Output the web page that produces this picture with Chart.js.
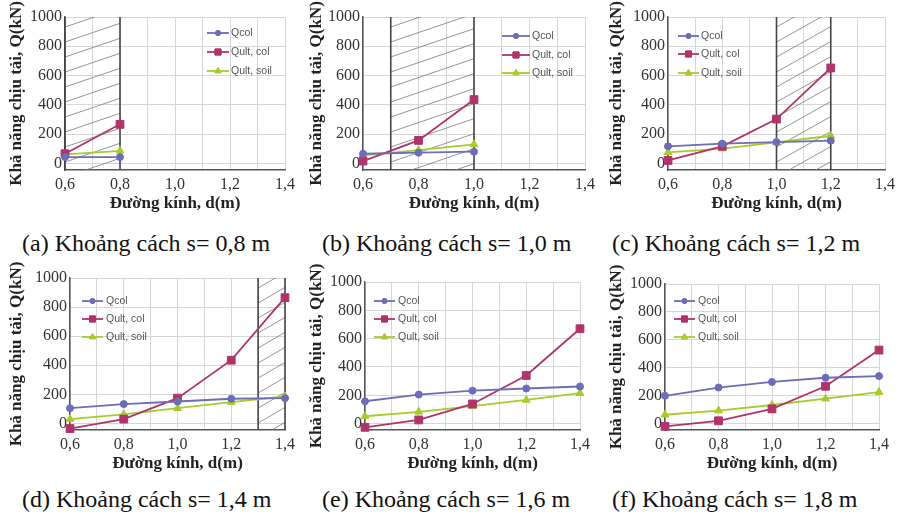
<!DOCTYPE html>
<html><head><meta charset="utf-8">
<script src="https://cdn.jsdelivr.net/npm/chart.js@4.4.0/dist/chart.umd.min.js"></script>
<style>
body{margin:0;background:#fff;width:900px;height:521px;overflow:hidden;position:relative}
canvas{position:absolute}
.cap{position:absolute;font-family:'Liberation Serif','Times New Roman',serif;font-size:24px;line-height:24px;color:#111;white-space:nowrap}
</style></head><body>
<canvas id="ca" width="300" height="222" style="left:0;top:0"></canvas>
<canvas id="cb" width="300" height="222" style="left:300px;top:0"></canvas>
<canvas id="cc" width="300" height="222" style="left:600px;top:0"></canvas>
<canvas id="cd" width="300" height="222" style="left:0;top:260px"></canvas>
<canvas id="ce" width="300" height="222" style="left:300px;top:260px"></canvas>
<canvas id="cf" width="300" height="222" style="left:600px;top:260px"></canvas>
<div class="cap" style="left:22px;top:231px">(a) Khoảng cách s= 0,8 m</div>
<div class="cap" style="left:322px;top:231px">(b) Khoảng cách s= 1,0 m</div>
<div class="cap" style="left:612px;top:231px">(c) Khoảng cách s= 1,2 m</div>
<div class="cap" style="left:22px;top:487px">(d) Khoảng cách s= 1,4 m</div>
<div class="cap" style="left:322px;top:487px">(e) Khoảng cách s= 1,6 m</div>
<div class="cap" style="left:612px;top:487px">(f) Khoảng cách s= 1,8 m</div>
<script>
// ---- data ----
const diameters = [0.6, 0.8, 1.0, 1.2, 1.4];
const seriesNames = ['Qcol', 'Qult, col', 'Qult, soil'];
const yTickValues = [0, 100, 200, 300, 400, 500, 600, 700, 800, 900, 1000];
const xTitle = 'Đường kính, d(m)';
const yTitle = 'Khả năng chịu tải, Q(kN)';

const qcolA = [43, 43];
const qultColA = [66, 267];
const qultSoilA = [62, 86];
const hatchA = [0.6, 0.8];

const qcolB = [66, 73, 80];
const qultColB = [16, 157, 436];
const qultSoilB = [55, 91, 130];
const hatchB = [0.7, 1.0];

const qcolC = [117, 135, 146, 155];
const qultColC = [20, 117, 303, 652];
const qultSoilC = [76, 101, 144, 189];
const hatchC = [1.0, 1.2];

const qcolD = [105, 133, 151, 170, 174];
const qultColD = [-35, 30, 174, 435, 865];
const qultSoilD = [30, 63, 105, 147, 186];
const hatchD = [1.3, 1.4];

const qcolE = [158, 205, 233, 248, 262];
const qultColE = [-26, 26, 139, 340, 670];
const qultSoilE = [52, 83, 123, 167, 215];

const qcolF = [200, 259, 299, 329, 341];
const qultColF = [-19, 21, 106, 268, 527];
const qultSoilF = [64, 94, 134, 179, 226];

// ---- styles ----
const COLORS = ['#6b6db8', '#b0336a', '#a6cc2c'];
const STYLES = ['circle', 'rect', 'triangle'];
const RADII = [3.5, 5.5, 4.5];
const LEG_RADII = [2.5, 4.2, 3.5];
const SERIF = "'Liberation Serif','Times New Roman',serif";
const SANS = "'Liberation Sans',Arial,sans-serif";
const H = 222;

const panels = [
  {id:'ca', q:[qcolA, qultColA, qultSoilA], hatch:hatchA, slope:0.34, box:{l:65,r:288,t:17}, leg:{x0:207,x1:229,tx:231,ys:[33,52,71]}},
  {id:'cb', q:[qcolB, qultColB, qultSoilB], hatch:hatchB, slope:0.34, box:{l:63,r:287,t:17}, leg:{x0:202,x1:230,tx:232,ys:[36,55,73]}},
  {id:'cc', q:[qcolC, qultColC, qultSoilC], hatch:hatchC, slope:0.56, box:{l:68,r:288,t:17}, leg:{x0:78,x1:99,tx:101,ys:[36,54,73]}},
  {id:'cd', q:[qcolD, qultColD, qultSoilD], hatch:hatchD, slope:0.58, box:{l:70,r:285,t:18}, leg:{x0:82,x1:103,tx:106,ys:[41,59,77]}},
  {id:'ce', q:[qcolE, qultColE, qultSoilE], hatch:null, slope:0, box:{l:65,r:280,t:22}, leg:{x0:74,x1:95,tx:98,ys:[41,59,77]}},
  {id:'cf', q:[qcolF, qultColF, qultSoilF], hatch:null, slope:0, box:{l:65,r:279,t:24}, leg:{x0:74,x1:95,tx:98,ys:[41,59,77]}}
];

function drawMarker(ctx, style, r, x, y, color) {
  ctx.save();
  ctx.fillStyle = color; ctx.strokeStyle = color; ctx.lineWidth = 1;
  Chart.helpers.drawPoint(ctx, {pointStyle: style, radius: r, rotation: 0, borderWidth: 1}, x, y);
  ctx.fill(); ctx.stroke();
  ctx.restore();
}

function makeChart(p) {
  const hatchPlugin = {
    id: 'hatch_' + p.id,
    beforeDatasetsDraw(chart) {
      if (!p.hatch) return;
      const ctx = chart.ctx, a = chart.chartArea, xs = chart.scales.x;
      const x0 = xs.getPixelForValue(p.hatch[0]);
      const x1 = xs.getPixelForValue(p.hatch[1]);
      ctx.save();
      ctx.beginPath(); ctx.rect(x0, a.top, x1 - x0, a.bottom - a.top); ctx.clip();
      ctx.strokeStyle = '#7a7a7a'; ctx.lineWidth = 0.8;
      const w = x1 - x0, sp = 15;
      for (let c = a.top - 20; c < a.bottom + w * p.slope + 20; c += sp) {
        ctx.beginPath();
        ctx.moveTo(x0, c);
        ctx.lineTo(x1, c - w * p.slope);
        ctx.stroke();
      }
      ctx.restore();
      ctx.save();
      ctx.strokeStyle = '#444'; ctx.lineWidth = 1.6;
      [x0, x1].forEach(x => {
        ctx.beginPath(); ctx.moveTo(x, a.top); ctx.lineTo(x, a.bottom); ctx.stroke();
      });
      ctx.restore();
    }
  };
  const legendPlugin = {
    id: 'leg_' + p.id,
    afterDraw(chart) {
      const ctx = chart.ctx, L = p.leg;
      ctx.save();
      seriesNames.forEach((name, i) => {
        const y = L.ys[i];
        ctx.strokeStyle = COLORS[i]; ctx.lineWidth = 1.8;
        ctx.beginPath(); ctx.moveTo(L.x0, y); ctx.lineTo(L.x1, y); ctx.stroke();
        drawMarker(ctx, STYLES[i], LEG_RADII[i], (L.x0 + L.x1) / 2, y, COLORS[i]);
        ctx.fillStyle = '#555'; ctx.font = '10.5px ' + SANS;
        ctx.textBaseline = 'middle'; ctx.textAlign = 'left';
        ctx.fillText(name, L.tx, y + 0.5);
      });
      ctx.restore();
    }
  };
  const datasets = p.q.map((arr, i) => ({
    label: seriesNames[i],
    data: arr.map((v, k) => ({x: diameters[k], y: v})),
    borderColor: COLORS[i], backgroundColor: COLORS[i],
    pointStyle: STYLES[i], pointRadius: RADII[i], pointBorderWidth: 1,
    borderWidth: 1.8, tension: 0, clip: false
  }));
  new Chart(document.getElementById(p.id), {
    type: 'line',
    data: {datasets},
    options: {
      responsive: false, animation: false, events: [],
      layout: {padding: {top: p.box.t, right: 300 - p.box.r, left: 0, bottom: 0}},
      plugins: {legend: {display: false}, tooltip: {enabled: false}},
      scales: {
        x: {
          type: 'linear', min: 0.6, max: 1.4,
          afterFit(s) { s.height = 52; },
          ticks: {
            stepSize: 0.1, autoSkip: false, maxRotation: 0, padding: 5,
            color: '#333', font: {family: SERIF, size: 16},
            callback(v) { const r = Math.round(v * 10); return r % 2 === 0 ? (r / 10).toFixed(1).replace('.', ',') : ''; }
          },
          grid: {color: '#d6d6d6', lineWidth: 1, drawTicks: false},
          border: {color: '#555', width: 1.5},
          title: {display: true, text: xTitle, color: '#222', font: {family: SERIF, size: 17, weight: 'bold'}, padding: {top: 0, bottom: 8}}
        },
        y: {
          min: -45, max: 1000,
          afterBuildTicks(s) { s.ticks = yTickValues.map(v => ({value: v})); },
          afterFit(s) { s.width = p.box.l; },
          ticks: {
            padding: 3, color: '#333', font: {family: SERIF, size: 16},
            callback(v) { return v % 200 === 0 ? String(v) : ''; }
          },
          grid: {color: '#d6d6d6', lineWidth: 1, drawTicks: false},
          border: {color: '#555', width: 1.5},
          title: {display: true, text: yTitle, color: '#222', font: {family: SERIF, size: 17, weight: 'bold'}, padding: {top: 6, bottom: 0}}
        }
      }
    },
    plugins: [hatchPlugin, legendPlugin]
  });
}
panels.forEach(makeChart);
</script>
</body></html>
